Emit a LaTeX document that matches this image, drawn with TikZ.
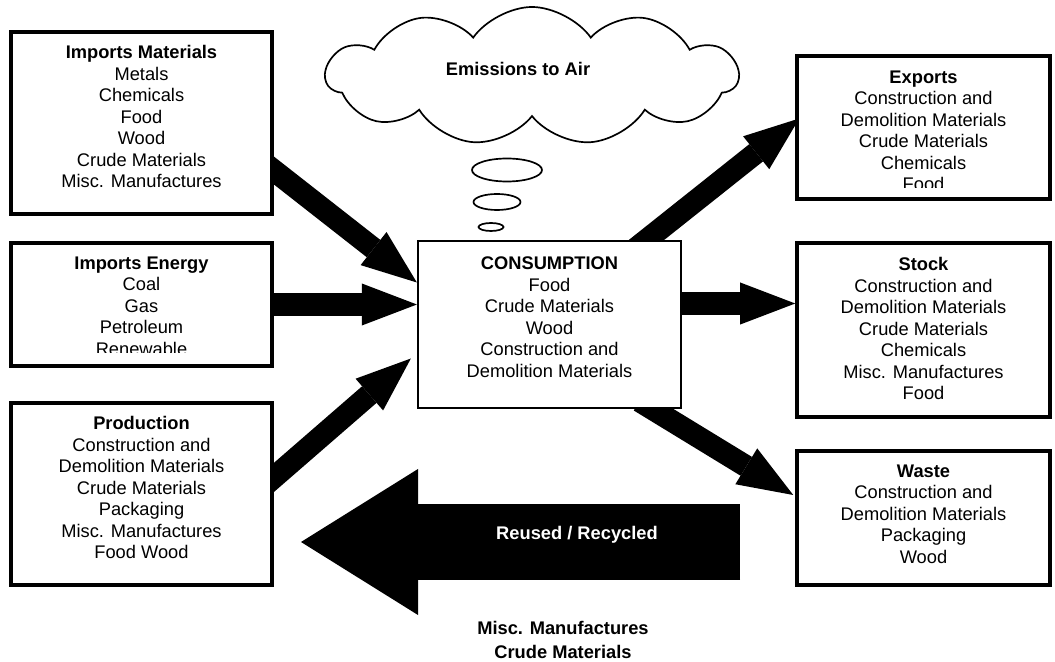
\documentclass[tikz,border=0pt]{standalone}
\usepackage{fontspec}
\setmainfont{Liberation Sans}
\usetikzlibrary{positioning,arrows.meta,calc,fit,shapes.symbols,shapes.geometric,backgrounds}

\newcommand{\boxfont}{\fontsize{13}{15.3}\selectfont}

\begin{document}
\begin{tikzpicture}[
  x=0.025cm, y=-0.025cm,
  box/.style={draw, fill=white, line width=2.5pt, inner sep=0pt},
  cbox/.style={draw, fill=white, line width=1.6pt, inner sep=0pt},
  txt/.style={align=center, inner sep=0pt, anchor=north, font=\boxfont},
  flow/.style={line width=0.55cm, -{Triangle[width=1.05cm, length=1.375cm, line width=0pt]}},
  bigflow/.style={line width=1.875cm, -{Triangle[width=3.65cm, length=2.925cm, line width=0pt]}},
  bubble/.style={draw, ellipse, line width=1.2pt, inner sep=0pt}
]
  \useasboundingbox (0,0) rectangle (1055,662);

  % inputs
  \node[box, fit={(11,32) (272,214)}] (impm) {};
  \node[box, fit={(11,243) (272,366)}] (impe) {};
  \node[box, fit={(11,403) (272,585)}] (prod) {};
  % centre
  \node[cbox, fit={(418,241) (681,408)}] (cons) {};
  % outputs
  \node[box, fit={(797,56) (1050,199)}] (expo) {};
  \node[box, fit={(797,243) (1050,417)}] (stock) {};
  \node[box, fit={(797,451) (1050,585)}] (waste) {};

  \node[txt] (impmtxt) at ($(impm.north)+(0,15)$) {\textbf{Imports Materials}\\Metals\\Chemicals\\Food\\Wood\\Crude Materials\\Misc. Manufactures};
  \begin{scope}
    \clip (impe.north west) rectangle ($(impe.south east)+(0,-15)$);
    \node[txt] (impetxt) at ($(impe.north)+(0,15)$) {\textbf{Imports Energy}\\Coal\\Gas\\Petroleum\\Renewable};
  \end{scope}
  \node[txt] (prodtxt) at ($(prod.north)+(0,15)$) {\textbf{Production}\\Construction and\\Demolition Materials\\Crude Materials\\Packaging\\Misc. Manufactures\\Food Wood};
  \node[txt] (constxt) at ($(cons.north)+(0,17)$) {\textbf{CONSUMPTION}\\Food\\Crude Materials\\Wood\\Construction and\\Demolition Materials};
  \begin{scope}
    \clip (expo.north west) rectangle ($(expo.south east)+(0,-13)$);
    \node[txt] (expotxt) at ($(expo.north)+(0,16)$) {\textbf{Exports}\\Construction and\\Demolition Materials\\Crude Materials\\Chemicals\\Food};
  \end{scope}
  \node[txt] (stocktxt) at ($(stock.north)+(0,16)$) {\textbf{Stock}\\Construction and\\Demolition Materials\\Crude Materials\\Chemicals\\Misc. Manufactures\\Food};
  \node[txt] (wastetxt) at ($(waste.north)+(0,15)$) {\textbf{Waste}\\Construction and\\Demolition Materials\\Packaging\\Wood};

  % emissions cloud and thought bubbles
  \node[cloud, draw, line width=1.2pt, cloud puffs=11, cloud puff arc=110, cloud ignores aspect,
        minimum width=10.3cm, minimum height=3.45cm, inner sep=0pt] (air) at (532,76) {};
  \node[txt, font=\boxfont\bfseries] (airtxt) at (518,62) {Emissions to Air};
  \node[bubble, minimum width=1.75cm, minimum height=0.575cm] (bub1) at (507,170) {};
  \node[bubble, minimum width=1.175cm, minimum height=0.4cm] (bub2) at (497,202) {};
  \node[bubble, minimum width=0.625cm, minimum height=0.2cm] (bub3) at (491,227) {};

  \coordinate (c5) at ($(cons.east)+(0,-21)$);
  \coordinate (rrtail) at (740,542);
  \coordinate (rrtip) at (301,542);

  \begin{scope}[on background layer]
    \draw[flow] ($(impm.east)+(-12,38)$) -- ($(cons.west)+(0,-42)$);
    \draw[flow] (impe.east) -- (impe.east -| cons.west);
    \draw[flow] ($(prod.east)+(-12,-6)$) -- ($(cons.west)+(-6,34)$);
    \draw[flow] ($(cons.north)+(82,12)$) -- ($(expo.west)+(4,-9)$);
    \draw[flow] (c5) -- (c5 -| stock.west);
    \draw[flow] ($(cons.south)+(90,-8)$) -- ($(waste.west)+(-2,-23)$);
  \end{scope}

  \draw[bigflow] (rrtail) -- (rrtip);
  \node[txt, font=\boxfont\bfseries, text=white] (rrtxt) at (577,526) {Reused / Recycled};
  \node[txt, font=\fontsize{13}{17}\selectfont\bfseries] (rrlist) at (563,621) {Misc. Manufactures\\Crude Materials};
\end{tikzpicture}
\end{document}
